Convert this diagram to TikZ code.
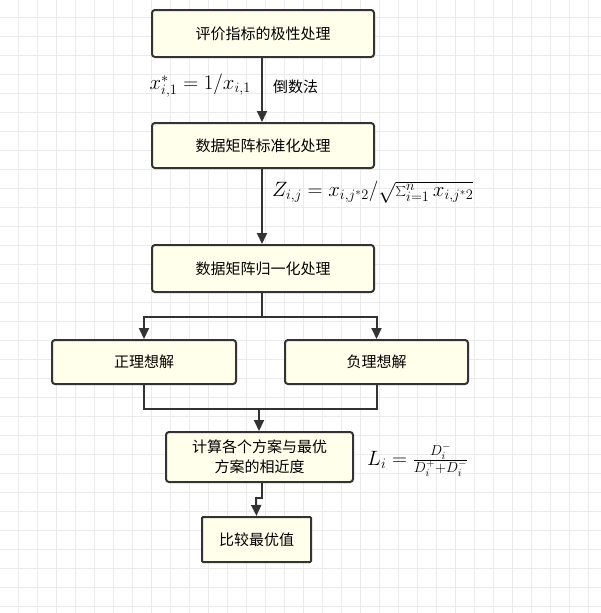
\documentclass[tikz,border=0pt]{standalone}
\usepackage{fontspec}
\setmainfont{Noto Sans CJK SC}
\usetikzlibrary{arrows.meta}
\definecolor{boxfill}{HTML}{FFFFEB}
\definecolor{edge}{HTML}{333333}
\definecolor{gridc}{HTML}{EBEBEB}
\begin{document}
\begin{tikzpicture}[x=1pt,y=-1pt,
  box/.style={draw=edge,line width=2pt,fill=boxfill,rounded corners=3pt,inner sep=0pt,font=\fontsize{15}{20}\selectfont,align=center},
  conn/.style={draw=edge,line width=2pt},
  arr/.style={conn,-{Triangle[length=11pt,width=10pt]}},
  lbl/.style={font=\fontsize{15}{18}\selectfont},
  mlbl/.style={font=\fontsize{21}{24}\selectfont}]
\useasboundingbox (0,0) rectangle (601,613);
\fill[white] (0,0) rectangle (601,613);
\foreach \x in {0,...,31} {\draw[gridc,line width=0.8pt] ({18+\x*19},0) -- ({18+\x*19},613);}
\foreach \y in {0,...,32} {\draw[gridc,line width=0.8pt] (0,{-2+\y*19}) -- (601,{-2+\y*19});}
\node[box,minimum width=222pt,minimum height=47pt] (b1) at (263,33.5) {评价指标的极性处理};
\node[box,minimum width=222pt,minimum height=45pt] (b2) at (263,145.5) {数据矩阵标准化处理};
\node[box,minimum width=222pt,minimum height=47pt] (b3) at (263,268.5) {数据矩阵归一化处理};
\node[box,minimum width=184pt,minimum height=44pt] (b4) at (144,362) {正理想解};
\node[box,minimum width=183pt,minimum height=44pt] (b5) at (376.5,362) {负理想解};
\node[box,minimum width=187pt,minimum height=50pt] (b6) at (259.5,457) {计算各个方案与最优\\方案的相近度};
\node[box,minimum width=109pt,minimum height=45pt,rounded corners=1pt] (b7) at (256.5,539.5) {比较最优值};
\draw[arr] (b1.south -| 262,0) -- (b2.north -| 262,0);
\draw[arr] (b2.south -| 262,0) -- (b3.north -| 262,0);
\coordinate (f1) at (262,317);
\draw[conn] (b3.south -| 262,0) -- (f1);
\draw[arr] (f1) -| (b4.north);
\draw[arr] (f1) -| (b5.north);
\coordinate (j1) at (259,409);
\draw[conn] (b4.south) |- (j1);
\draw[conn] (b5.south) |- (j1);
\draw[arr] (j1) -- (b6.north -| 259,0);
\coordinate (k1) at (262,498);
\draw[conn] (b6.south -| 262,0) -- (k1) -- (256,498);
\draw[arr] (256,497) -- (b7.north);
\node[mlbl,anchor=east,inner sep=0pt] (t1) at (251,86) {$x^*_{i,1}=1/x_{i,1}$};
\node[lbl,anchor=west,inner sep=0pt] (t2) at (273,87) {倒数法};
\node[mlbl,anchor=west,inner sep=0pt] (t3) at (272,192) {$Z_{i,j}=x_{i,j^*2}/\sqrt{\sum_{i=1}^{n}x_{i,j^*2}}$};
\node[mlbl,anchor=west,inner sep=0pt] (t4) at (367,460) {$L_i=\frac{D_i^-}{D_i^+ + D_i^-}$};
\end{tikzpicture}
\end{document}
